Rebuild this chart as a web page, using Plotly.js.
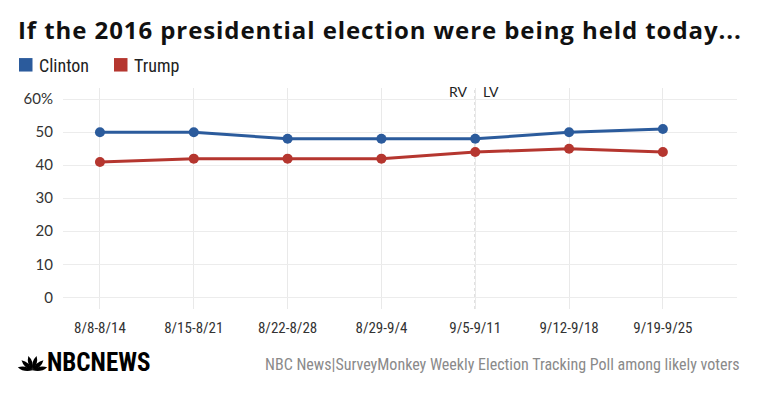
<!DOCTYPE html>
<html><head><meta charset="utf-8">
<script src="https://cdn.plot.ly/plotly-3.0.1.min.js"></script>
<style>html,body{margin:0;padding:0;background:#fff}#chart{width:760px;height:399px}.gtitle{letter-spacing:0.92px}</style>
</head><body><div id="chart"></div><script>
const categories = ['8/8-8/14','8/15-8/21','8/22-8/28','8/29-9/4','9/5-9/11','9/12-9/18','9/19-9/25'];
const clinton = [50,50,48,48,48,50,51];
const trump = [41,42,42,42,44,45,44];
const seriesNames = ['Clinton','Trump'];
const seriesColors = ['#2b5b9c','#b5362f'];
const yTickVals = [0,10,20,30,40,50,60];
const yTickText = ['0','10','20','30','40','50','60%'];
const splitCategory = '9/5-9/11';
const splitLabels = ['RV','LV'];
const titleText = 'If the 2016 presidential election were being held today...';
const sourceText = 'NBC News|SurveyMonkey Weekly Election Tracking Poll among likely voters';
const logoText = 'NBCNEWS';

const NARROW = '"Liberation Sans Narrow","Roboto Condensed","DejaVu Sans Condensed",sans-serif';
const REG = 'Lato, "Open Sans", sans-serif';
const PL=63, PW=674, PT=88, PH=221.5;
const fx = p => (p-PL)/PW;
const fy = p => (PT+PH-p)/PH;

const traces = [clinton, trump].map((vals,i)=>({
  type:'scatter', mode:'lines+markers', x:categories, y:vals, name:seriesNames[i],
  line:{color:seriesColors[i], width:3}, marker:{color:seriesColors[i], size:10},
  cliponaxis:false, hoverinfo:'skip', showlegend:false
}));

const splitIdx = categories.indexOf(splitCategory);
const shapes = [
  {type:'line', xref:'x', yref:'paper', x0:splitIdx, x1:splitIdx, y0:0, y1:1, layer:'between', line:{color:'#ffffff', width:2}},
  {type:'line', xref:'x', yref:'paper', x0:splitIdx, x1:splitIdx, y0:0, y1:1, layer:'between', line:{color:'#c4c4c4', width:1.5, dash:'dot'}}
];
const legX = [19, 114];
legX.forEach((x,i)=>shapes.push({type:'rect', xref:'paper', yref:'paper', x0:fx(x), x1:fx(x+13.5), y0:fy(71.5), y1:fy(58), fillcolor:seriesColors[i], line:{width:0}}));
const bx=32.5, by=371, R=15;
[12,43,74,106,137,168].forEach(a=>{
  const r=a*Math.PI/180, tx=bx+R*Math.cos(r), ty=by-R*Math.sin(r);
  const mx=bx+0.55*R*Math.cos(r), my=by-0.55*R*Math.sin(r);
  const px=Math.sin(r)*4.2, py=Math.cos(r)*4.2;
  const P=(x,y)=>fx(x).toFixed(5)+','+fy(y).toFixed(5);
  shapes.push({type:'path', xref:'paper', yref:'paper', fillcolor:'#000', line:{width:0},
    path:'M'+P(bx,by)+' Q'+P(mx+px,my+py)+' '+P(tx,ty)+' Q'+P(mx-px,my-py)+' '+P(bx,by)+' Z'});
});

const annotations = [
  {xref:'x', yref:'paper', x:splitIdx, y:fy(92), text:splitLabels[0], showarrow:false, xanchor:'right', yanchor:'middle', xshift:-5, font:{family:REG, size:14, color:'#222'}},
  {xref:'x', yref:'paper', x:splitIdx, y:fy(92), text:splitLabels[1], showarrow:false, xanchor:'left', yanchor:'middle', xshift:6, font:{family:REG, size:14, color:'#222'}},
  {xref:'paper', yref:'paper', x:fx(37), y:fy(65), text:seriesNames[0], showarrow:false, xanchor:'left', yanchor:'middle', font:{family:NARROW, size:18, color:'#222'}},
  {xref:'paper', yref:'paper', x:fx(132), y:fy(65), text:seriesNames[1], showarrow:false, xanchor:'left', yanchor:'middle', font:{family:NARROW, size:18, color:'#222'}},
  {xref:'paper', yref:'paper', x:fx(742), y:fy(365), text:sourceText, showarrow:false, xanchor:'right', yanchor:'middle', font:{family:NARROW, size:16, color:'#8a8a8a'}},
  {xref:'paper', yref:'paper', x:fx(45), y:fy(363), text:'<b>'+logoText+'</b>', showarrow:false, xanchor:'left', yanchor:'middle', font:{family:NARROW, size:25, color:'#000'}}
];

const layout = {
  width:760, height:399, autosize:false,
  margin:{l:PL, r:760-PL-PW, t:PT, b:399-PT-PH, pad:0},
  paper_bgcolor:'#fff', plot_bgcolor:'#fff',
  title:{text:'<b>'+titleText+'</b>', xref:'container', yref:'container', x:18/760, xanchor:'left', y:1-31/399, yanchor:'middle', font:{family:'"Open Sans", sans-serif', size:24, color:'#111'}},
  xaxis:{type:'category', range:[-0.394, 6.79], showgrid:true, gridcolor:'#e9e9e9', gridwidth:1, zeroline:false, showline:false, ticks:'', ticklabelstandoff:8, tickfont:{family:NARROW, size:15, color:'#333'}, fixedrange:true},
  yaxis:{range:[-3.56, 63.4], tickvals:yTickVals, ticktext:yTickText, showgrid:true, gridcolor:'#ececec', gridwidth:1.2, zeroline:false, showline:false, ticks:'', ticklabelstandoff:9, tickfont:{family:REG, size:15, color:'#333'}, fixedrange:true},
  shapes:shapes, annotations:annotations, showlegend:false, hovermode:false
};
Plotly.newPlot('chart', traces, layout, {displayModeBar:false, staticPlot:true});
</script></body></html>
